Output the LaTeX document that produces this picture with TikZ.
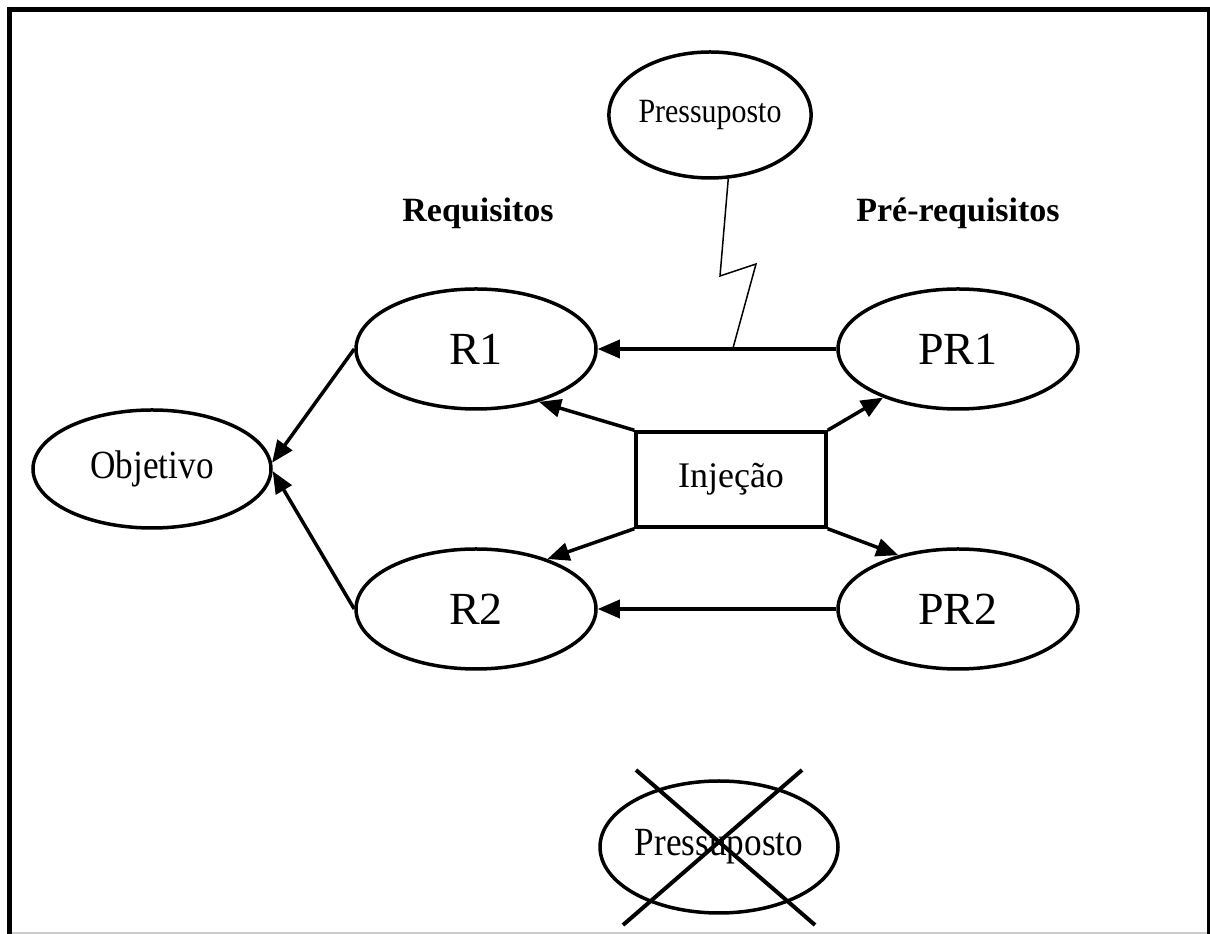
\documentclass[tikz,border=0pt]{standalone}
\usepackage{fontspec}
\setmainfont{Liberation Serif}
\newfontfamily\narrowserif[FakeStretch=0.88]{Liberation Serif}
\usetikzlibrary{shapes.geometric,arrows.meta,calc}

\tikzset{
  bubble/.style={draw, ellipse, line width=3.5pt, inner sep=0pt,
    minimum width=240pt, minimum height=120pt},
  bigtext/.style={font=\fontsize{46}{46}\selectfont},
  midtext/.style={font=\fontsize{36}{36}\selectfont},
  narrowtext/.style={font=\narrowserif\fontsize{#1}{#1}\selectfont},
  headtext/.style={font=\fontsize{34}{34}\selectfont\bfseries},
  flow/.style={line width=3.5pt, -{Triangle[length=22pt,width=18pt]}},
  bolt/.style={line width=1.5pt, line join=miter},
  strike/.style={line width=4pt},
}

\begin{document}
\begin{tikzpicture}[x=1pt,y=1pt]
  \useasboundingbox (0,0) rectangle (1210,934);

  % page frame
  \draw[line width=5pt] (9.5,0) -- (9.5,924.5) -- (1209.5,924.5) -- (1209.5,0);
  \draw[line width=1.5pt, black!20] (12,1) -- (1207,1);

  % nodes
  \node[bubble, minimum width=194pt, minimum height=126pt,
        narrowtext=34] (P) at (710,819) {Pressuposto};
  \node[headtext] (hR) at (478,721) {Requisitos};
  \node[headtext] (hPR) at (958,721) {Pré-requisitos};

  \node[bubble, bigtext] (R1) at (476,585) {R1};
  \node[bubble, bigtext] (PR1) at (958,585) {PR1};
  \node[bubble, bigtext] (R2) at (476,325) {R2};
  \node[bubble, bigtext] (PR2) at (958,325) {PR2};
  \node[bubble, minimum width=238pt, minimum height=118pt,
        narrowtext=40] (Obj) at (152,465) {Objetivo};

  \node[draw, line width=3.5pt, minimum width=190pt, minimum height=95pt,
        inner sep=0pt, midtext] (Inj) at (731,454.5) {Injeção};

  \node[bubble, minimum width=238pt, minimum height=132pt,
        narrowtext=40] (PX) at (719,87) {Pressuposto};

  % connectors
  \draw[flow] (PR1.west) -- (R1.east);
  \draw[flow] (PR2.west) -- (R2.east);
  \draw[flow] (R1.west) -- (Obj.3);
  \draw[flow] (R2.west) -- (Obj.-1);

  \draw[flow] (Inj.north west) -- (R1.-40);
  \draw[flow] (Inj.north east) -- (PR1.-147);
  \draw[flow] (Inj.south west) -- (R2.35);
  \draw[flow] (Inj.south east) -- (PR2.138);

  % lightning link from the assumption to the PR1 -> R1 arrow
  \coordinate (hit) at ($(PR1.west)!0.434!(R1.east)$);
  \draw[bolt] (P.-74) -- (720,658) -- (756,670) -- (hit);

  % crossed-out assumption
  \draw[strike] ($(PX)+(-83,77)$) -- ($(PX)+(96,-78)$);
  \draw[strike] ($(PX)+(83,77)$) -- ($(PX)+(-96,-78)$);
\end{tikzpicture}
\end{document}
